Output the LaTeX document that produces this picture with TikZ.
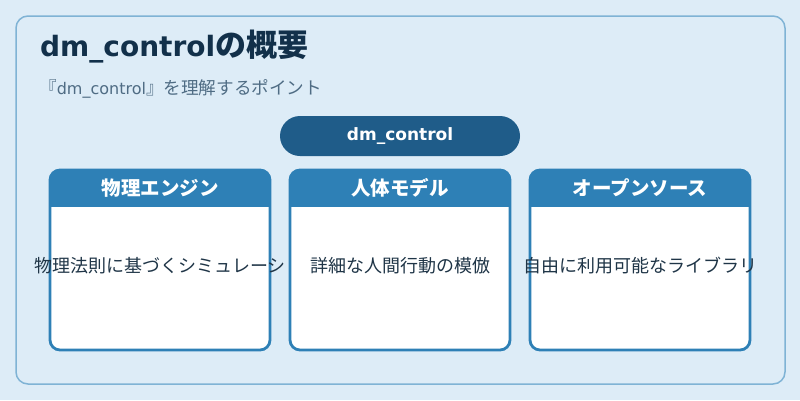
\documentclass[tikz,border=0pt]{standalone}
\usepackage{fontspec}
\setmainfont{Noto Sans CJK JP}
\newfontfamily\djfont{DejaVu Sans}
\definecolor{bgc}{HTML}{DDECF7}
\definecolor{outerc}{HTML}{7FB3D5}
\definecolor{titlec}{HTML}{12304A}
\definecolor{subc}{HTML}{4F6C84}
\definecolor{pillc}{HTML}{1F5C89}
\definecolor{cardc}{HTML}{2E80B6}
\definecolor{bodyc}{HTML}{1F3547}
\tikzset{
  cardhead/.style={text=white,font=\fontsize{19.5}{21}\selectfont\bfseries,anchor=center},
  cardbody/.style={text=bodyc,font=\fontsize{18}{20}\selectfont,anchor=center},
  cardframe/.style={cardc,line width=2.8pt,rounded corners=10pt},
}
\begin{document}
\begin{tikzpicture}[x=1pt,y=-1pt]
\fill[bgc] (0,0) rectangle (800,400);
\useasboundingbox (0,0) rectangle (800,400);
\draw[outerc,line width=1.5pt,rounded corners=12pt] (16,16) rectangle (785,384);
\node[anchor=west,text=titlec,font=\fontsize{31}{33}\selectfont\bfseries,inner sep=0pt] (title) at (40,47) {{\djfont\fontsize{28}{30}\selectfont dm\_control}の概要};
\node[anchor=west,text=subc,font=\fontsize{17.6}{19}\selectfont,inner sep=0pt] (sub) at (39,89) {『{\djfont\fontsize{16}{18}\selectfont dm\_control}』を理解するポイント};
\node[fill=pillc,rounded corners=20pt,minimum width=240pt,minimum height=40pt,inner sep=0pt,text=white,font=\djfont\fontsize{17}{19}\selectfont\bfseries] (pill) at (400,136) {dm\_control};
\foreach \x/\h/\b/\n in {50/物理エンジン/物理法則に基づくシミュレーシ/a,290/人体モデル/詳細な人間行動の模倣/b,530/オープンソース/自由に利用可能なライブラリ/c}{
  \fill[white,rounded corners=10pt] (\x,170) rectangle ++(220,180);
  \begin{scope}
    \clip[rounded corners=10pt] (\x,170) rectangle ++(220,180);
    \fill[cardc] (\x,170) rectangle ++(220,37);
  \end{scope}
  \draw[cardframe] (\x,170) rectangle ++(220,180);
  \node[cardhead] (h\n) at (\x+110,188) {\h};
  \node[cardbody] (b\n) at (\x+110,266) {\b};
}
\end{tikzpicture}
\end{document}
